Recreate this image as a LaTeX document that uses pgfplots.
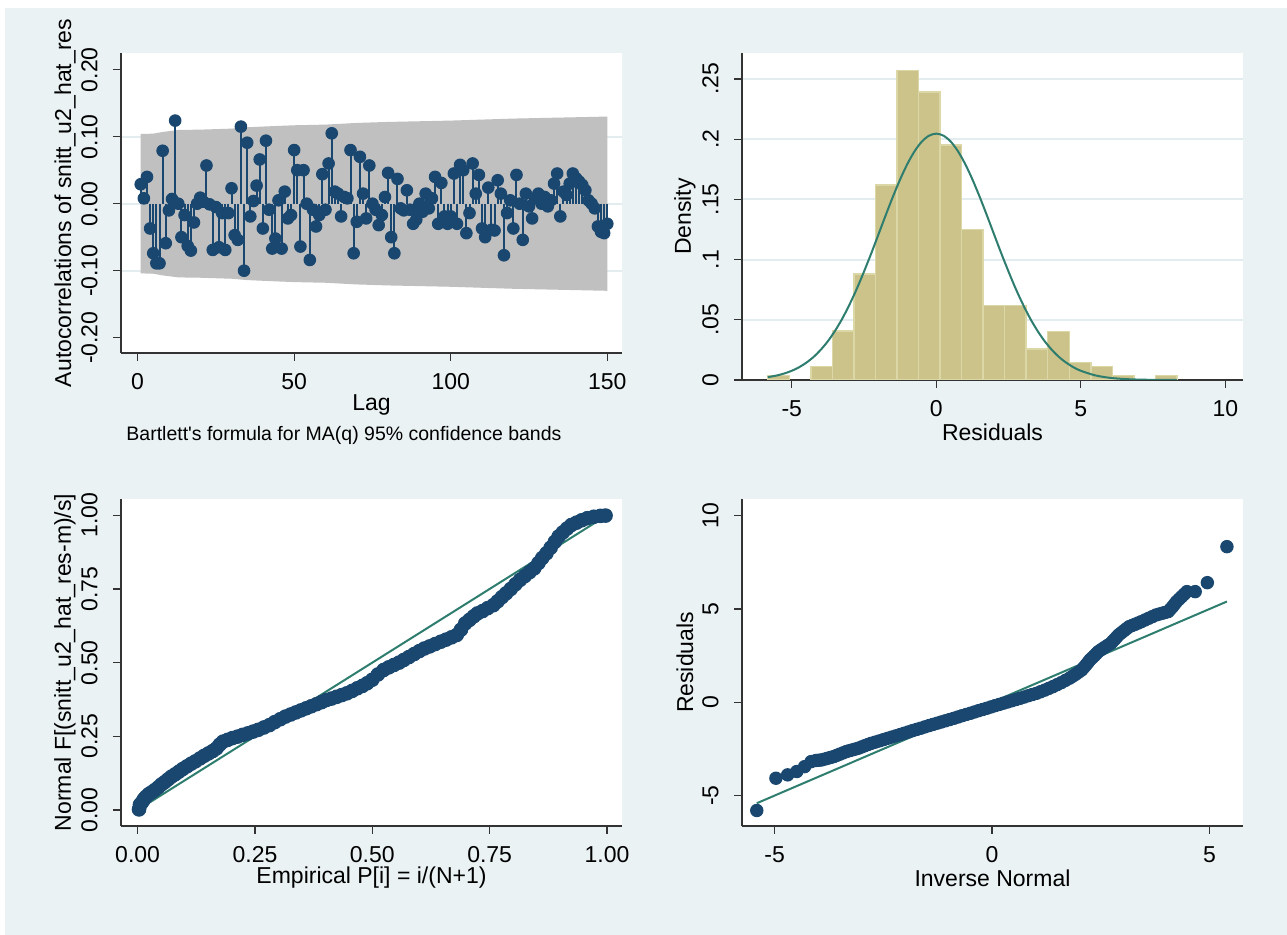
\documentclass[border=0pt]{standalone}
\usepackage{fontspec}
\setmainfont{Liberation Sans}
\usepackage{pgfplots}
\pgfplotsset{compat=1.18}
\definecolor{bgblue}{HTML}{EAF2F3}
\definecolor{navy}{HTML}{1A476F}
\definecolor{teal2}{HTML}{2E7D6E}
\definecolor{khaki}{HTML}{CBC38A}
\definecolor{khakiedge}{HTML}{DCD7A6}
\definecolor{bandgray}{HTML}{C0C0C0}
\definecolor{gridc}{HTML}{E3ECEF}
\newcommand\fs{\fontsize{11.5}{13.8}\selectfont}
\newcommand\fsc{\fontsize{9.75}{11.7}\selectfont}
\pgfplotsset{stata/.style={
  scale only axis, width=250.5pt,
  axis x line*=bottom, axis y line*=left,
  axis line style={black!80, line width=0.6pt},
  tick align=outside, major tick length=4pt,
  tick style={black!80, line width=0.6pt},
  axis background/.style={fill=white},
  tick label style={font=\fs, inner sep=0pt},
  xticklabel style={anchor=north},
  yticklabel style={rotate=90, anchor=south},
  xticklabel shift=5.9pt, yticklabel shift=7.5pt,
  label style={font=\fs, inner sep=0pt},
  grid style={gridc, line width=1pt},
  scaled ticks=false,
  dot/.style={only marks, mark=*, mark size=3.1pt, mark options={fill=navy, draw=navy, line width=0.5pt}},
}}
\begin{document}
\begin{tikzpicture}
\useasboundingbox (0,0) rectangle (643.5pt,467.5pt);
\fill[white] (0,0) rectangle (643.5pt,467.5pt);
\fill[bgblue] (2.5pt,0pt) rectangle (643.5pt,463.5pt);

% ---------- Panel 1: ACF ----------
\begin{axis}[stata, clip=false,
  at={(60.5pt,291pt)}, anchor=south west, height=150pt,
  xmin=-5.3, xmax=154.7, ymin=-0.2228, ymax=0.2249,
  xtick={0,50,100,150}, xticklabels={0,50,100,150},
  ytick={-0.1,0,0.1}, yticklabels={-0.10,0.00,0.10},
  extra y ticks={-0.2,0.2}, extra y tick labels={-0.20,0.20},
  extra y tick style={grid=none},
  ymajorgrids,
  xlabel={Lag}, ylabel={Autocorrelations of snitt\_u2\_hat\_res},
  xlabel style={at={(axis description cs:0.5,-0.1733)}, anchor=center},
  ylabel style={at={(axis description cs:-0.1118,0.5)}, anchor=center},
]
\addplot[fill=bandgray, draw=none] coordinates {
(1,0.104) (5,0.1045) (8,0.107) (13,0.110) (20,0.1105) (30,0.112) (35,0.114) (42,0.1155) (50,0.117) (60,0.118) (70,0.1205) (80,0.122) (90,0.123) (100,0.124) (110,0.1255) (120,0.127) (130,0.128) (140,0.129) (150,0.130)
(150,-0.130) (140,-0.129) (130,-0.128) (120,-0.127) (110,-0.1255) (100,-0.124) (90,-0.123) (80,-0.122) (70,-0.1205) (60,-0.118) (50,-0.117) (42,-0.1155) (35,-0.114) (30,-0.112) (20,-0.1105) (13,-0.110) (8,-0.107) (5,-0.1045) (1,-0.104)
} -- cycle;
\addplot[ycomb, navy, line width=1pt, mark=*, mark size=2.9pt, mark options={fill=navy, draw=navy, line width=0.5pt}] coordinates {
(1,0.029) (2,0.008) (3,0.040) (4,-0.037) (5,-0.074) (6,-0.089) (7,-0.089) (8,0.079) (9,-0.059) (10,-0.010)
(11,0.007) (12,0.124) (13,0.000) (14,-0.050) (15,-0.017) (16,-0.063) (17,-0.070) (18,-0.028) (19,0.000) (20,0.009)
(21,0.003) (22,0.057) (23,-0.001) (24,-0.069) (25,-0.005) (26,-0.065) (27,-0.014) (28,-0.069) (29,-0.014) (30,0.023)
(31,-0.047) (32,-0.054) (33,0.115) (34,-0.100) (35,0.091) (36,-0.019) (37,0.004) (38,0.027) (39,0.066) (40,-0.037)
(41,0.094) (42,-0.009) (43,-0.067) (44,-0.052) (45,0.005) (46,-0.067) (47,0.018) (48,-0.022) (49,-0.017) (50,0.080)
(51,0.050) (52,-0.064) (53,0.050) (54,0.000) (55,-0.084) (56,-0.009) (57,-0.034) (58,-0.017) (59,0.044) (60,-0.009)
(61,0.060) (62,0.105) (63,0.018) (64,0.015) (65,-0.019) (66,0.010) (67,0.008) (68,0.080) (69,-0.074) (70,-0.027)
(71,0.070) (72,0.015) (73,-0.022) (74,0.057) (75,0.000) (76,-0.009) (77,-0.032) (78,-0.017) (79,0.010) (80,0.046)
(81,-0.050) (82,-0.074) (83,0.037) (84,-0.007) (85,-0.010) (86,0.020) (87,-0.009) (88,-0.030) (89,-0.024) (90,0.000)
(91,-0.012) (92,0.015) (93,-0.007) (94,0.008) (95,0.040) (96,-0.030) (97,0.031) (98,-0.019) (99,-0.030) (100,-0.019)
(101,0.045) (102,-0.030) (103,0.058) (104,0.050) (105,-0.044) (106,-0.014) (107,0.060) (108,0.015) (109,0.043) (110,-0.037)
(111,-0.050) (112,0.024) (113,-0.039) (114,-0.040) (115,0.035) (116,0.015) (117,-0.077) (118,-0.014) (119,0.005) (120,-0.037)
(121,0.043) (122,0.000) (123,-0.054) (124,0.015) (125,-0.004) (126,-0.022) (127,0.008) (128,0.015) (129,0.000) (130,0.010)
(131,-0.004) (132,0.005) (133,0.030) (134,0.045) (135,-0.019) (136,0.018) (137,0.013) (138,0.030) (139,0.045) (140,0.038)
(141,0.033) (142,0.028) (143,0.020) (144,0.005) (145,0.000) (146,-0.007) (147,-0.034) (148,-0.042) (149,-0.044) (150,-0.030)
};
\node[anchor=west, font=\fsc, inner sep=0pt] at (axis description cs:0.01,-0.2733) {Bartlett\textquotesingle s formula for MA(q) 95\% confidence bands};
\end{axis}

% ---------- Panel 2: histogram ----------
\begin{axis}[stata,
  at={(371pt,277.5pt)}, anchor=south west, height=163.5pt,
  xmin=-6.72, xmax=10.61, ymin=0, ymax=0.2716,
  xtick={-5,0,5,10}, xticklabels={-5,0,5,10},
  ytick={0,0.05,0.1,0.15,0.2,0.25}, yticklabels={0,.05,.1,.15,.2,.25},
  ymajorgrids,
  xlabel={Residuals}, ylabel={Density},
  xlabel style={at={(axis description cs:0.5,-0.159)}, anchor=center},
  ylabel style={at={(axis description cs:-0.1138,0.5)}, anchor=center},
]
\addplot[ybar interval, fill=khaki, draw=khakiedge, line width=0.75pt] coordinates {(-5.830,0.0037) (-5.085,0.0037)};
\addplot[ybar interval, fill=khaki, draw=khakiedge, line width=0.75pt] coordinates {
(-4.340,0.011) (-3.595,0.0405) (-2.850,0.088) (-2.105,0.162) (-1.360,0.257) (-0.615,0.239) (0.130,0.195) (0.875,0.125)
(1.620,0.062) (2.365,0.062) (3.110,0.0257) (3.855,0.0404) (4.600,0.0147) (5.345,0.011) (6.090,0.0037) (6.835,0.0037)};
\addplot[ybar interval, fill=khaki, draw=khakiedge, line width=0.75pt] coordinates {(7.580,0.0037) (8.325,0.0037)};
\addplot[teal2, line width=1pt, smooth] coordinates {
(-5.83,0.00234) (-5.5,0.00383) (-5.25,0.00546) (-5,0.00764) (-4.75,0.0105) (-4.5,0.0143) (-4.25,0.0190) (-4,0.0250)
(-3.75,0.0322) (-3.5,0.0409) (-3.25,0.0510) (-3,0.0627) (-2.75,0.0757) (-2.5,0.0900) (-2.25,0.1051) (-2,0.1209)
(-1.75,0.1368) (-1.5,0.1522) (-1.25,0.1666) (-1,0.1794) (-0.75,0.1900) (-0.5,0.1980) (-0.25,0.2029) (0,0.2046)
(0.25,0.2029) (0.5,0.1980) (0.75,0.1900) (1,0.1794) (1.25,0.1666) (1.5,0.1522) (1.75,0.1368) (2,0.1209)
(2.25,0.1051) (2.5,0.0900) (2.75,0.0757) (3,0.0627) (3.25,0.0510) (3.5,0.0409) (3.75,0.0322) (4,0.0250)
(4.25,0.0190) (4.5,0.0143) (4.75,0.0105) (5,0.00764) (5.5,0.00383) (6,0.0018) (6.5,0.0008) (7,0.00033) (7.5,0.00013) (8.32,0.00002)
};
\end{axis}

% ---------- Panel 3: pnorm ----------
\begin{axis}[stata,
  at={(60.5pt,54.5pt)}, anchor=south west, height=163.5pt,
  xmin=-0.0354, xmax=1.032, ymin=-0.0543, ymax=1.0553,
  xtick={0,0.25,0.5,0.75,1}, xticklabels={0.00,0.25,0.50,0.75,1.00},
  ytick={0,0.25,0.5,0.75,1}, yticklabels={0.00,0.25,0.50,0.75,1.00},
  xlabel={Empirical P[i] = i/(N+1)}, ylabel={Normal F[(snitt\_u2\_hat\_res-m)/s]},
  xlabel style={at={(axis description cs:0.5,-0.159)}, anchor=center},
  ylabel style={at={(axis description cs:-0.1118,0.5)}, anchor=center},
]
\addplot[dot, mark size=3.4pt] coordinates {
(0.003,0.002) (0.005,0.018) (0.008,0.023) (0.011,0.030) (0.014,0.038) (0.018,0.045) (0.024,0.054) (0.030,0.060)
(0.037,0.068) (0.044,0.077) (0.051,0.087) (0.058,0.095) (0.065,0.104) (0.072,0.113) (0.080,0.121) (0.088,0.130)
(0.096,0.139) (0.105,0.148) (0.114,0.157) (0.123,0.165) (0.133,0.175) (0.142,0.184) (0.151,0.192) (0.160,0.200)
(0.168,0.209) (0.175,0.222) (0.182,0.232) (0.192,0.238) (0.202,0.244) (0.213,0.249) (0.224,0.255) (0.235,0.260)
(0.246,0.266) (0.257,0.272) (0.269,0.280) (0.281,0.288) (0.292,0.298) (0.304,0.308) (0.315,0.317) (0.326,0.324)
(0.337,0.331) (0.348,0.338) (0.359,0.345) (0.370,0.352) (0.381,0.359) (0.392,0.366) (0.402,0.373) (0.413,0.378)
(0.424,0.384) (0.435,0.390) (0.446,0.396) (0.457,0.404) (0.468,0.413) (0.479,0.421) (0.489,0.430) (0.500,0.442)
(0.512,0.460) (0.524,0.475) (0.535,0.484) (0.546,0.492) (0.557,0.500) (0.567,0.509) (0.578,0.519) (0.589,0.529)
(0.600,0.539) (0.611,0.548) (0.622,0.555) (0.634,0.563) (0.646,0.571) (0.657,0.578) (0.669,0.586) (0.680,0.594)
(0.689,0.612) (0.698,0.633) (0.707,0.645) (0.716,0.657) (0.724,0.667) (0.735,0.675) (0.746,0.685) (0.758,0.695)
(0.767,0.708) (0.776,0.722) (0.785,0.735) (0.795,0.750) (0.805,0.766) (0.815,0.781) (0.825,0.794) (0.835,0.807)
(0.845,0.820) (0.854,0.838) (0.862,0.855) (0.871,0.871) (0.880,0.890) (0.889,0.910) (0.897,0.928) (0.906,0.942)
(0.915,0.955) (0.924,0.967) (0.935,0.975) (0.946,0.983) (0.958,0.990) (0.972,0.995) (0.986,0.998) (0.997,0.999)
};
\addplot[teal2, line width=1pt] coordinates {(0,0) (1,1)};
\end{axis}

% ---------- Panel 4: qnorm ----------
\begin{axis}[stata,
  at={(371pt,54.5pt)}, anchor=south west, height=163.5pt,
  xmin=-5.75, xmax=5.77, ymin=-6.63, ymax=10.895,
  xtick={-5,0,5}, xticklabels={-5,0,5},
  ytick={-5,0,5,10}, yticklabels={-5,0,5,10},
  xlabel={Inverse Normal}, ylabel={Residuals},
  xlabel style={at={(axis description cs:0.5,-0.159)}, anchor=center},
  ylabel style={at={(axis description cs:-0.1138,0.5)}, anchor=center},
]
\addplot[dot] coordinates {
(-5.41,-5.80) (-4.97,-4.07) (-4.70,-3.89) (-4.49,-3.71) (-4.31,-3.45) (-4.16,-3.18)
(-4.05,-3.12) (-3.985,-3.105) (-3.92,-3.09) (-3.85,-3.045) (-3.78,-3.00) (-3.71,-2.955) (-3.64,-2.91) (-3.57,-2.845)
(-3.50,-2.78) (-3.425,-2.71) (-3.35,-2.64) (-3.28,-2.595) (-3.21,-2.55) (-3.14,-2.505) (-3.07,-2.46) (-3.00,-2.395)
(-2.93,-2.33) (-2.855,-2.265) (-2.78,-2.20) (-2.685,-2.135) (-2.59,-2.07) (-2.495,-2.00) (-2.40,-1.93) (-2.305,-1.865)
(-2.21,-1.80) (-2.115,-1.73) (-2.02,-1.66) (-1.925,-1.59) (-1.83,-1.52) (-1.735,-1.455) (-1.64,-1.39) (-1.545,-1.32)
(-1.45,-1.25) (-1.355,-1.185) (-1.26,-1.12) (-1.165,-1.055) (-1.07,-0.99) (-0.975,-0.925) (-0.88,-0.86) (-0.785,-0.79)
(-0.69,-0.72) (-0.595,-0.655) (-0.50,-0.59) (-0.405,-0.52) (-0.31,-0.45) (-0.215,-0.385) (-0.12,-0.32) (-0.025,-0.25)
(0.07,-0.18) (0.165,-0.115) (0.26,-0.05) (0.355,0.015) (0.45,0.08) (0.545,0.145) (0.64,0.21) (0.735,0.28)
(0.83,0.35) (0.925,0.415) (1.02,0.48) (1.115,0.565) (1.21,0.65) (1.305,0.745) (1.40,0.84) (1.495,0.945)
(1.59,1.05) (1.685,1.17) (1.78,1.29) (1.85,1.395) (1.92,1.50) (1.99,1.615) (2.06,1.73) (2.11,1.865)
(2.16,2.00) (2.205,2.135) (2.25,2.27) (2.30,2.38) (2.35,2.49) (2.395,2.60) (2.44,2.71) (2.51,2.82)
(2.58,2.93) (2.655,3.045) (2.73,3.16) (2.775,3.27) (2.82,3.38) (2.865,3.495) (2.91,3.61) (2.97,3.72)
(3.03,3.83) (3.09,3.94) (3.15,4.05) (3.22,4.115) (3.29,4.18) (3.36,4.25) (3.43,4.32) (3.515,4.41)
(3.60,4.50) (3.685,4.59) (3.77,4.68) (3.84,4.725) (3.91,4.77) (3.98,4.815) (4.05,4.86) (4.10,4.99)
(4.15,5.12) (4.195,5.255) (4.24,5.39) (4.30,5.525) (4.36,5.66) (4.42,5.795) (4.48,5.93)
(4.67,5.93) (4.95,6.41) (5.40,8.34)
};
\addplot[teal2, line width=1pt] coordinates {(-5.41,-5.41) (5.40,5.40)};
\end{axis}
\end{tikzpicture}
\end{document}
